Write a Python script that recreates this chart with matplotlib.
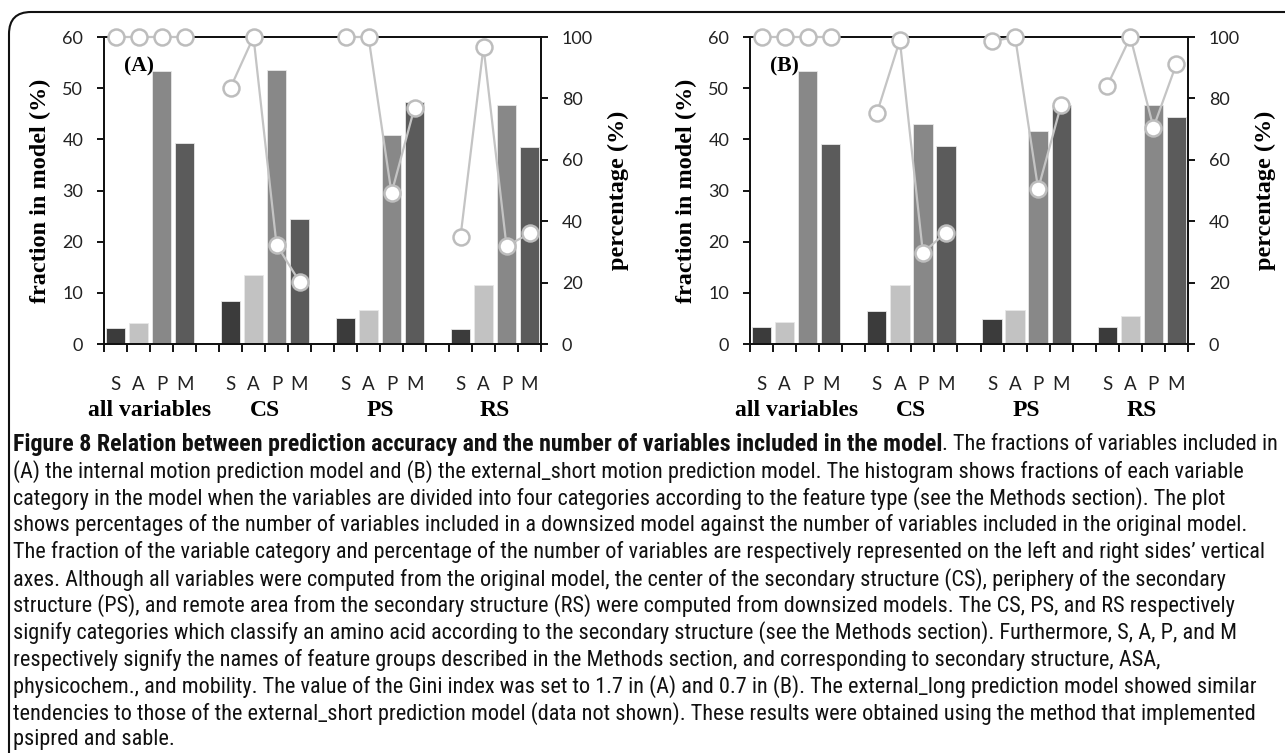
import matplotlib
matplotlib.use('Agg')
import matplotlib.pyplot as plt
from matplotlib.patches import FancyBboxPatch
from matplotlib.transforms import IdentityTransform, blended_transform_factory
from matplotlib import font_manager as fm
from matplotlib.font_manager import FontProperties

# ---------------- data ----------------
groups = ['all variables', 'CS', 'PS', 'RS']
features = ['S', 'A', 'P', 'M']
bar_colors = ['#3b3b3b', '#c2c2c2', '#888888', '#5b5b5b']

# panel (A): fraction in model (%)
fracA_all = [3.1, 4.2, 53.3, 39.2]
fracA_CS = [8.4, 13.4, 53.6, 24.4]
fracA_PS = [5.0, 6.7, 40.9, 47.2]
fracA_RS = [3.0, 11.5, 46.8, 38.5]
# panel (A): percentage (%)
pctA_all = [100, 100, 100, 100]
pctA_CS = [83.5, 100, 32.4, 20.3]
pctA_PS = [100, 100, 49.1, 77.0]
pctA_RS = [34.9, 96.8, 31.9, 36.0]

# panel (B): fraction in model (%)
fracB_all = [3.3, 4.3, 53.3, 39.1]
fracB_CS = [6.5, 11.6, 43.0, 38.6]
fracB_PS = [4.8, 6.7, 41.6, 46.7]
fracB_RS = [3.3, 5.4, 46.7, 44.4]
# panel (B): percentage (%)
pctB_all = [100, 100, 100, 100]
pctB_CS = [75.1, 98.9, 29.7, 36.3]
pctB_PS = [98.6, 100, 50.5, 78.0]
pctB_RS = [84.2, 100, 70.5, 91.3]

left_ticks = [0, 10, 20, 30, 40, 50, 60]
right_ticks = [0, 20, 40, 60, 80, 100]

caption_bold = ('Figure 8 Relation between prediction accuracy and the number of '
                'variables included in the model')
caption_lines = [
    '. The fractions of variables included in',
    '(A) the internal motion prediction model and (B) the external_short motion prediction model. The histogram shows fractions of each variable',
    'category in the model when the variables are divided into four categories according to the feature type (see the Methods section). The plot',
    'shows percentages of the number of variables included in a downsized model against the number of variables included in the original model.',
    'The fraction of the variable category and percentage of the number of variables are respectively represented on the left and right sides\u2019 vertical',
    'axes. Although all variables were computed from the original model, the center of the secondary structure (CS), periphery of the secondary',
    'structure (PS), and remote area from the secondary structure (RS) were computed from downsized models. The CS, PS, and RS respectively',
    'signify categories which classify an amino acid according to the secondary structure (see the Methods section). Furthermore, S, A, P, and M',
    'respectively signify the names of feature groups described in the Methods section, and corresponding to secondary structure, ASA,',
    'physicochem., and mobility. The value of the Gini index was set to 1.7 in (A) and 0.7 in (B). The external_long prediction model showed similar',
    'tendencies to those of the external_short prediction model (data not shown). These results were obtained using the method that implemented',
    'psipred and sable.',
]

# ---------------- fonts ----------------
names = {f.name for f in fm.fontManager.ttflist}
tick_family = 'Lato' if 'Lato' in names else 'DejaVu Sans'
serif_family = 'Liberation Serif' if 'Liberation Serif' in names else 'DejaVu Serif'


def find_condensed(bold):
    prefs = ['liberationsansnarrow', 'robotocondensed', 'opensans_condensed',
             'opensanscondensed', 'notosanscondensed', 'dejavusanscondensed']
    cands = []
    for f in fm.fontManager.ttflist:
        fn = f.fname.lower().replace('-', '').replace(' ', '')
        if 'oblique' in fn or 'italic' in fn:
            continue
        if not ('condensed' in fn or 'narrow' in fn):
            continue
        if 'semicondensed' in fn or 'extracondensed' in fn:
            continue
        isbold = (f.weight in ('bold', 700) or
                  (isinstance(f.weight, int) and f.weight >= 700) or 'bold' in fn)
        if any(k in fn for k in ('semibold', 'extrabold', 'light', 'medium', 'thin', 'black')):
            continue
        if isbold != bold:
            continue
        rank = len(prefs)
        for i, p in enumerate(prefs):
            if p in fn:
                rank = i
                break
        cands.append((rank, f.fname))
    if cands:
        cands.sort()
        return FontProperties(fname=cands[0][1])
    return FontProperties(family='DejaVu Sans', stretch='condensed',
                          weight='bold' if bold else 'normal')


cap_reg = find_condensed(False)
cap_bold = find_condensed(True)

W, H = 1285, 753
fig = plt.figure(figsize=(W / 100, H / 100), dpi=100)
fig.patch.set_facecolor('white')


def panel(rect, fr, pc, letter):
    ax = fig.add_axes(rect)
    ax2 = ax.twinx()
    for gi in range(4):
        xs = [gi * 5 + i for i in range(4)]
        ax.bar(xs, fr[gi], width=0.84, color=bar_colors, edgecolor='#e8e8e8',
               linewidth=0.6, zorder=2)
        ax2.plot(xs, pc[gi], color='#c4c4c4', lw=1.6, marker='o', ms=11.5,
                 mfc='white', mec='#bdbdbd', mew=1.8, clip_on=False, zorder=5)
    ax.set_xlim(-0.5, 18.5)
    ax.set_ylim(0, 60)
    ax2.set_ylim(0, 100)
    ax.set_yticks(left_ticks)
    ax2.set_yticks(right_ticks)
    centers = [gi * 5 + i for gi in range(4) for i in range(4)]
    ax.set_xticks(centers)
    ax.set_xticklabels(features * 4, fontfamily=tick_family, fontsize=13.5)
    ax.set_xticks([x - 0.5 for x in range(20)], minor=True)
    ax.tick_params(axis='x', which='major', length=0, pad=23)
    ax.tick_params(axis='x', which='minor', length=6, width=1.3, direction='out')
    ax.tick_params(axis='y', length=5, width=1.3, pad=10, labelsize=13)
    ax2.tick_params(axis='y', length=5, width=1.3, pad=10, labelsize=13)
    for t in ax.get_yticklabels() + ax2.get_yticklabels():
        t.set_fontfamily(tick_family)
        t.set_color('#222222')
    for t in ax.get_xticklabels():
        t.set_color('#222222')
    for a in (ax, ax2):
        for s in a.spines.values():
            s.set_linewidth(1.3)
            s.set_color('#111111')
    ax2.set_zorder(ax.get_zorder() + 1)
    ax2.patch.set_visible(False)
    tr = blended_transform_factory(ax.transData, ax.transAxes)
    for gi, g in enumerate(groups):
        ax.text(gi * 5 + 1.5, -0.215, g, transform=tr, ha='center', va='center',
                fontfamily=serif_family, fontweight='bold', fontsize=17)
    ax.set_ylabel('fraction in model (%)', fontfamily=serif_family,
                  fontweight='bold', fontsize=17.5, labelpad=8)
    ax2.set_ylabel('percentage (%)', fontfamily=serif_family,
                   fontweight='bold', fontsize=17.5, labelpad=11)
    ax.text(0.045, 0.905, letter, transform=ax.transAxes, ha='left',
            va='center', fontfamily=serif_family, fontweight='bold', fontsize=15.5)
    return ax, ax2


bottom = 1 - 344 / H
height = (344 - 37) / H
panel([104 / W, bottom, (541 - 104) / W, height],
      [fracA_all, fracA_CS, fracA_PS, fracA_RS],
      [pctA_all, pctA_CS, pctA_PS, pctA_RS], '(A)')
panel([750 / W, bottom, (1188 - 750) / W, height],
      [fracB_all, fracB_CS, fracB_PS, fracB_RS],
      [pctB_all, pctB_CS, pctB_PS, pctB_RS], '(B)')

# ---------------- caption ----------------
x0 = 13 / W
y_first = 445
spacing = (740 - 445) / 11
fs = 14
renderer = fig.canvas.get_renderer()
body = []
for k, line in enumerate(caption_lines[1:], start=1):
    body.append(fig.text(x0, 1 - (y_first + k * spacing) / H, line,
                         fontproperties=cap_reg, fontsize=fs, va='center',
                         ha='left', color='#111111'))
wmax = max(t.get_window_extent(renderer).width for t in body)
fs2 = fs * (1272 - 13) / wmax
for t in body:
    t.set_fontsize(fs2)
t_bold = fig.text(x0, 1 - y_first / H, caption_bold, fontproperties=cap_bold,
                  fontsize=fs2, va='center', ha='left', color='#111111')
t_rest = fig.text(0, 0, caption_lines[0], fontproperties=cap_reg, fontsize=fs2,
                  va='center', ha='left', color='#111111')
wb = t_bold.get_window_extent(renderer).width
wr = t_rest.get_window_extent(renderer).width
# bold heading widened so the first line reaches the right margin
t_bold.set_fontsize(fs2 * (1276 - 13 - wr) / wb)
wb = t_bold.get_window_extent(renderer).width
t_rest.set_position((x0 + wb / W, 1 - y_first / H))

# ---------------- border ----------------
border = FancyBboxPatch((9, -60), 1400, (H - 12) + 60,
                        boxstyle='round,pad=0,rounding_size=22',
                        transform=IdentityTransform(), fill=False,
                        edgecolor='#111111', linewidth=1.5)
fig.patches.append(border)

fig.savefig('out.png', dpi=100)
